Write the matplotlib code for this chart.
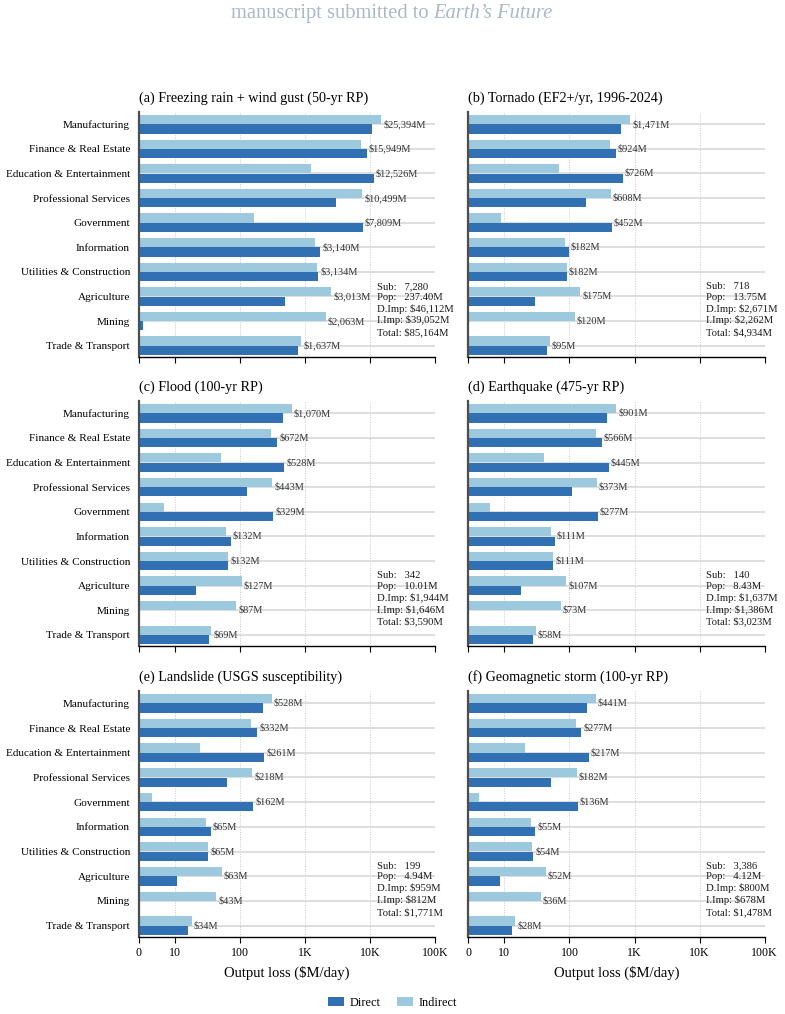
import numpy as np
import matplotlib
matplotlib.use("Agg")
import matplotlib.pyplot as plt
from matplotlib.ticker import NullLocator
from matplotlib.patches import Patch

plt.rcParams['font.family'] = ['Liberation Serif', 'DejaVu Serif']
plt.rcParams['text.parse_math'] = False

sectors = ["Manufacturing", "Finance & Real Estate", "Education & Entertainment",
           "Professional Services", "Government", "Information",
           "Utilities & Construction", "Agriculture", "Mining", "Trade & Transport"]

titles = ["(a) Freezing rain + wind gust (50-yr RP)",
          "(b) Tornado (EF2+/yr, 1996-2024)",
          "(c) Flood (100-yr RP)",
          "(d) Earthquake (475-yr RP)",
          "(e) Landslide (USGS susceptibility)",
          "(f) Geomagnetic storm (100-yr RP)"]

a_direct = [10766, 8816, 11309, 3014, 7647, 1709, 1594, 495, 1, 761]
a_indirect = [14628, 7133, 1217, 7485, 162, 1431, 1540, 2518, 2062, 876]
b_direct = [619, 511, 658, 177, 443, 98, 91, 29, 0, 45]
b_indirect = [852, 413, 68, 431, 9, 84, 91, 146, 120, 50]
c_direct = [451, 372, 478, 129, 322, 71, 66, 21, 0.3, 33]
c_indirect = [619, 300, 50, 314, 7, 61, 66, 106, 86.7, 36]
d_direct = [380, 313, 404.5, 109, 271, 59, 56, 18, 0, 27.5]
d_indirect = [521, 253, 40.5, 264, 6, 52, 55, 89, 73, 30.5]
e_direct = [223.3, 183, 236.5, 63.5, 158.5, 35, 32.5, 10.5, 0.2, 16]
e_indirect = [304.7, 149, 24.5, 154.5, 3.5, 30, 32.5, 52.5, 42.8, 18]
f_direct = [186, 153, 196.6, 52, 133, 29.5, 27.5, 8.7, 0, 13.3]
f_indirect = [255, 124, 20.4, 130, 3, 25.5, 26.5, 43.3, 36, 14.7]

subs = [7280, 718, 342, 140, 199, 3386]
pops = [237.40, 13.75, 10.01, 8.43, 4.94, 4.12]
d_imp = [46112, 2671, 1944, 1637, 959, 800]
i_imp = [39052, 2262, 1646, 1386, 812, 678]
totals = [85164, 4934, 3590, 3023, 1771, 1478]

xticks = [0, 10, 100, 1000, 10000, 100000]
xticklabels = ["0", "10", "100", "1K", "10K", "100K"]

directs = [a_direct, b_direct, c_direct, d_direct, e_direct, f_direct]
indirects = [a_indirect, b_indirect, c_indirect, d_indirect, e_indirect, f_indirect]

C_DIR = "#3171b3"
C_IND = "#9dc9df"

W, H = 785, 1014
fig = plt.figure(figsize=(W / 100, H / 100), dpi=100)

lefts = [139, 468.3]
axw = 296.3
rows = [(112, 357), (401, 646.3), (691, 937)]

y = np.arange(len(sectors))
bh = 0.37
off = 0.19

for k in range(6):
    r, c = divmod(k, 2)
    top, bot = rows[r]
    ax = fig.add_axes([lefts[c] / W, 1 - bot / H, axw / W, (bot - top) / H])
    D = np.array(directs[k], dtype=float)
    I = np.array(indirects[k], dtype=float)
    ax.barh(y - off, I, height=bh, color=C_IND, zorder=2)
    ax.barh(y + off, D, height=bh, color=C_DIR, zorder=2)
    ax.set_xscale('symlog', linthresh=10, linscale=0.5)
    ax.set_xlim(0, 100000)
    ax.set_ylim(9.46, -0.5)
    ax.set_xticks(xticks)
    ax.xaxis.set_minor_locator(NullLocator())
    ax.set_yticks(y)
    if c == 0:
        ax.set_yticklabels(sectors, fontsize=8.1)
    else:
        ax.set_yticklabels([])
    ax.tick_params(axis='y', length=0, pad=6.5)
    ax.tick_params(axis='x', length=4, width=0.8, direction='out', labelsize=8.6, pad=3)
    if r == 2:
        ax.set_xticklabels(xticklabels)
        ax.set_xlabel("Output loss ($M/day)", fontsize=10.5, labelpad=5)
    else:
        ax.set_xticklabels([])
    ax.set_axisbelow(True)
    ax.grid(axis='y', color='#dedede', lw=1.4, zorder=0)
    ax.grid(axis='x', which='major', ls=(0, (1, 1.5)), color='#c8c8c8', lw=0.7, zorder=0)
    for s in ['top', 'right']:
        ax.spines[s].set_visible(False)
    ax.spines['left'].set_color('#4d4d4d')
    ax.spines['left'].set_linewidth(1.6)
    ax.spines['bottom'].set_color('black')
    ax.spines['bottom'].set_linewidth(1.0)
    ax.set_title(titles[k], loc='left', fontsize=10.2, pad=7)

    for i in range(len(sectors)):
        tot = D[i] + I[i]
        ax.annotate(f"${int(round(tot)):,}M", xy=(max(D[i], I[i]), y[i]),
                    xytext=(1.5, 0), textcoords='offset points',
                    va='center', ha='left', fontsize=7.4, color='#333333', zorder=3)

    lines = [f"{'Sub:':<7}{subs[k]:,}",
             f"{'Pop:':<7}{pops[k]:.2f}M",
             f"{'D.Imp:':<7}${d_imp[k]:,}M",
             f"{'I.Imp:':<7}${i_imp[k]:,}M",
             f"{'Total:':<7}${totals[k]:,}M"]
    ax.text(0.802, 0.194, "\n".join(lines), transform=ax.transAxes,
            ha='left', va='center', fontsize=7.7, linespacing=1.24, color='#1a1a1a')

# header
hdr_col = "#aab9c7"
fig.text(429 / W, 1 - 13.5 / H, "manuscript submitted to", ha='right', va='center',
         fontsize=14.8, color=hdr_col)
fig.text(433 / W, 1 - 13.5 / H, "Earth\u2019s Future", ha='left', va='center',
         fontsize=14.8, color=hdr_col, style='italic')

handles = [Patch(facecolor=C_DIR, label="Direct"), Patch(facecolor=C_IND, label="Indirect")]
fig.legend(handles=handles, loc='center', bbox_to_anchor=(0.5, 1 - 1002.5 / H), ncol=2,
           frameon=False, fontsize=8.8, handlelength=1.3, handleheight=0.8,
           handletextpad=0.5, columnspacing=1.3)

fig.savefig("out.png", dpi=100)
